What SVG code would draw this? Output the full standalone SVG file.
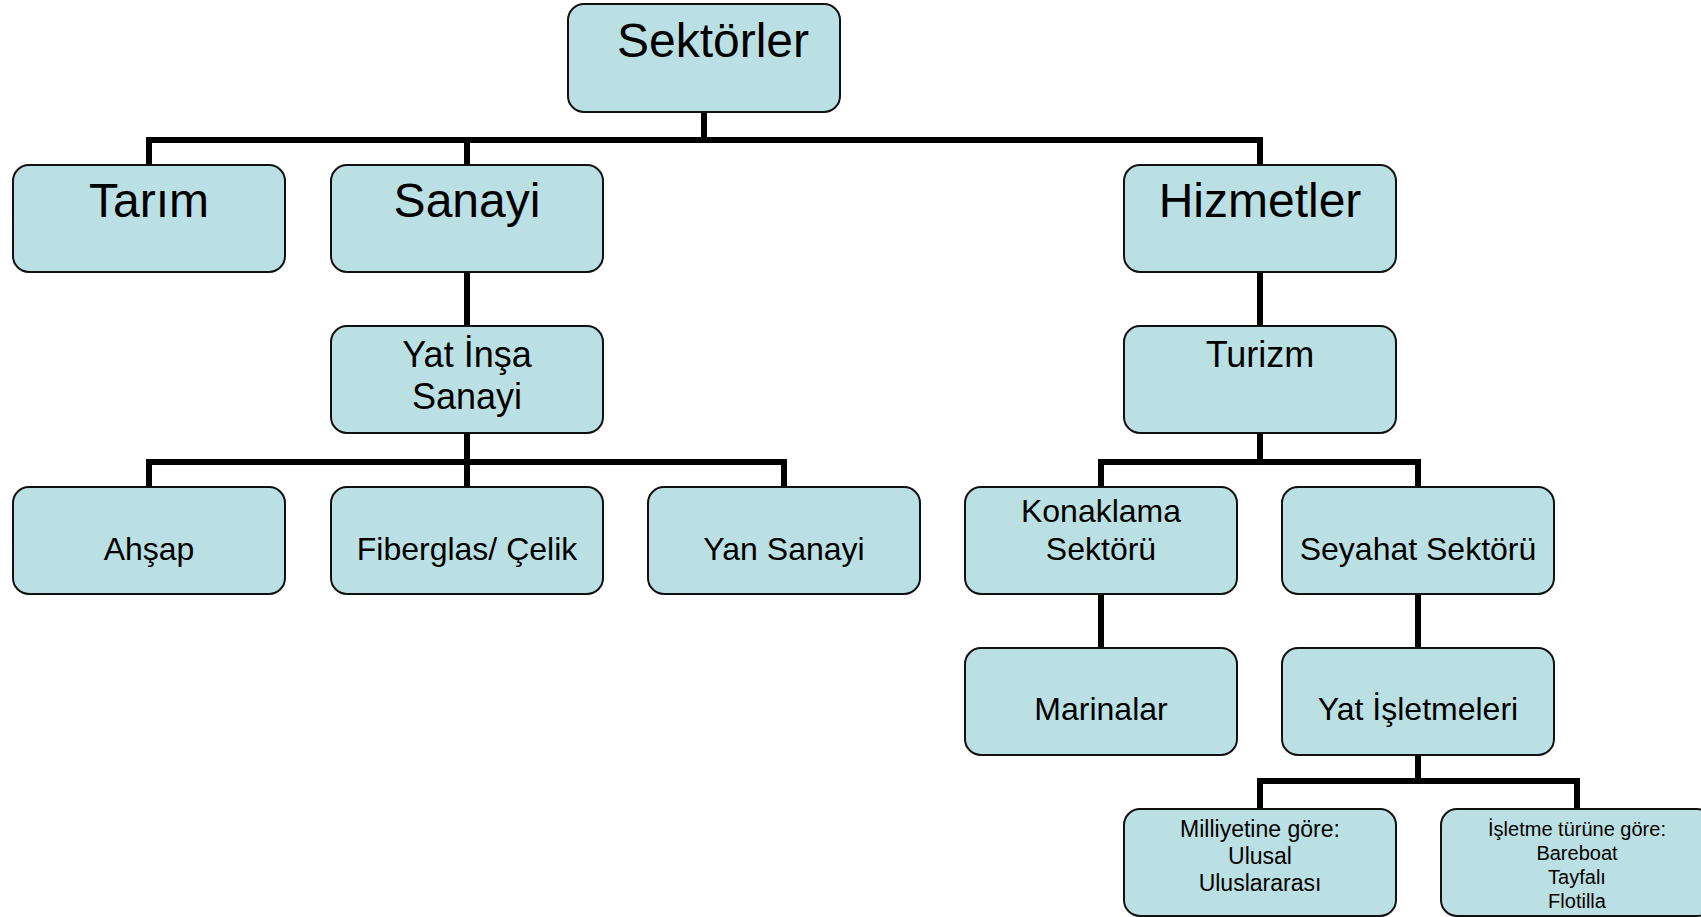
<svg xmlns="http://www.w3.org/2000/svg" width="1701" height="917" viewBox="0 0 1701 917">
  <style>
    .box { fill: #BBE0E3; stroke: #111; stroke-width: 2; }
    .lbl { font-family: "Liberation Sans", Arial, sans-serif; fill: #000; text-anchor: middle; }
    .l48 { font-size: 48px; }
    .l36 { font-size: 36px; }
    .l32 { font-size: 32px; }
    .l23 { font-size: 23px; }
    .l20 { font-size: 20px; }
    .wire { fill: none; stroke: #000; stroke-width: 6; stroke-linecap: square; }
  </style>
  <rect width="1701" height="917" fill="#fff"/>

  <!-- connectors -->
  <g id="connectors" class="wire">
    <path d="M704 112 V140 M149 140 H1260 M149 140 V165 M467 140 V165 M1260 140 V165"/>
    <path d="M467 272 V326"/>
    <path d="M467 433 V462 M149 462 H784 M149 462 V487 M467 462 V487 M784 462 V487"/>
    <path d="M1260 272 V326"/>
    <path d="M1260 433 V462 M1101 462 H1418 M1101 462 V487 M1418 462 V487"/>
    <path d="M1101 594 V648"/>
    <path d="M1418 594 V648"/>
    <path d="M1418 755 V781 M1260 781 H1577 M1260 781 V809 M1577 781 V809"/>
  </g>

  <g id="sektorler">
    <rect class="box" x="568" y="4" width="272" height="108" rx="16"/>
    <text class="lbl l48" x="713" y="57">Sektörler</text>
  </g>
  <g id="tarim">
    <rect class="box" x="13" y="165" width="272" height="107" rx="16"/>
    <text class="lbl l48" x="149" y="217">Tarım</text>
  </g>
  <g id="sanayi">
    <rect class="box" x="331" y="165" width="272" height="107" rx="16"/>
    <text class="lbl l48" x="467" y="217">Sanayi</text>
  </g>
  <g id="hizmetler">
    <rect class="box" x="1124" y="165" width="272" height="107" rx="16"/>
    <text class="lbl l48" x="1260" y="217">Hizmetler</text>
  </g>
  <g id="yat-insa-sanayi">
    <rect class="box" x="331" y="326" width="272" height="107" rx="16"/>
    <text class="lbl l36" x="467" y="367">Yat İnşa</text>
    <text class="lbl l36" x="467" y="409">Sanayi</text>
  </g>
  <g id="turizm">
    <rect class="box" x="1124" y="326" width="272" height="107" rx="16"/>
    <text class="lbl l36" x="1260" y="367">Turizm</text>
  </g>
  <g id="ahsap">
    <rect class="box" x="13" y="487" width="272" height="107" rx="16"/>
    <text class="lbl l32" x="149" y="560">Ahşap</text>
  </g>
  <g id="fiberglas-celik">
    <rect class="box" x="331" y="487" width="272" height="107" rx="16"/>
    <text class="lbl l32" x="467" y="560">Fiberglas/ Çelik</text>
  </g>
  <g id="yan-sanayi">
    <rect class="box" x="648" y="487" width="272" height="107" rx="16"/>
    <text class="lbl l32" x="784" y="560">Yan Sanayi</text>
  </g>
  <g id="konaklama-sektoru">
    <rect class="box" x="965" y="487" width="272" height="107" rx="16"/>
    <text class="lbl l32" x="1101" y="522">Konaklama</text>
    <text class="lbl l32" x="1101" y="560">Sektörü</text>
  </g>
  <g id="seyahat-sektoru">
    <rect class="box" x="1282" y="487" width="272" height="107" rx="16"/>
    <text class="lbl l32" x="1418" y="560">Seyahat Sektörü</text>
  </g>
  <g id="marinalar">
    <rect class="box" x="965" y="648" width="272" height="107" rx="16"/>
    <text class="lbl l32" x="1101" y="720">Marinalar</text>
  </g>
  <g id="yat-isletmeleri">
    <rect class="box" x="1282" y="648" width="272" height="107" rx="16"/>
    <text class="lbl l32" x="1418" y="720">Yat İşletmeleri</text>
  </g>
  <g id="milliyetine-gore">
    <rect class="box" x="1124" y="809" width="272" height="107" rx="16"/>
    <text class="lbl l23" x="1260" y="837">Milliyetine göre:</text>
    <text class="lbl l23" x="1260" y="864">Ulusal</text>
    <text class="lbl l23" x="1260" y="891">Uluslararası</text>
  </g>
  <g id="isletme-turune-gore">
    <rect class="box" x="1441" y="809" width="272" height="107" rx="16"/>
    <text class="lbl l20" x="1577" y="836">İşletme türüne göre:</text>
    <text class="lbl l20" x="1577" y="860">Bareboat</text>
    <text class="lbl l20" x="1577" y="884">Tayfalı</text>
    <text class="lbl l20" x="1577" y="908">Flotilla</text>
  </g>
</svg>
